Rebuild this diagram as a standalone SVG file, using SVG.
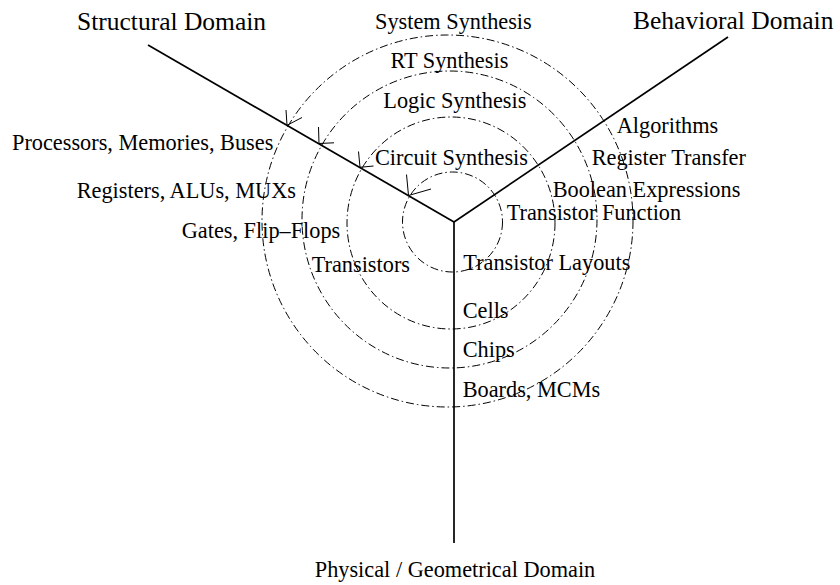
<svg xmlns="http://www.w3.org/2000/svg" width="840" height="585" viewBox="0 0 840 585">
  <style>
    .lbl { font-family: "Liberation Serif", "Times New Roman", serif; font-size: 22.3px; fill: #000; }
    .dom { font-family: "Liberation Serif", "Times New Roman", serif; font-size: 25.5px; fill: #000; }
    .axis { stroke: #000; stroke-width: 1.7; fill: none; }
    .level { stroke: #000; stroke-width: 1; fill: none; stroke-dasharray: 8 3 1.5 3; }
    .head { stroke: #000; stroke-width: 1; fill: none; }
  </style>
  <rect width="840" height="585" fill="#fff"/>

  <!-- abstraction level circles -->
  <g id="levels">
    <ellipse class="level" cx="447.5" cy="221" rx="185.5" ry="186"/>
    <ellipse class="level" cx="449.5" cy="219.5" rx="147.5" ry="148.5"/>
    <ellipse class="level" cx="451" cy="223" rx="104" ry="106"/>
    <ellipse class="level" cx="452.5" cy="222" rx="50" ry="50"/>
  </g>

  <!-- the three domain axes -->
  <g id="connectors">
    <line class="axis" x1="148" y1="45" x2="454" y2="222"/>
    <line class="axis" x1="728" y1="37" x2="454" y2="222"/>
    <line class="axis" x1="454" y1="222" x2="454" y2="543"/>
  </g>

  <!-- synthesis arrowheads where the circles meet the structural axis -->
  <g id="arrowheads">
    <polyline class="head" points="286,110 287,125.3 302,117.5"/>
    <polyline class="head" points="318.5,127 319,143.5 334,142.8"/>
    <polyline class="head" points="358.5,151.5 360,167.3 373.5,166"/>
    <polyline class="head" points="406.5,174.5 408.5,195.5 431,189"/>
  </g>

  <g id="structural-domain"><text class="dom" x="77" y="30">Structural Domain</text></g>
  <g id="behavioral-domain"><text class="dom" x="633" y="29">Behavioral Domain</text></g>
  <g id="physical-domain"><text class="lbl" x="455" y="577" text-anchor="middle">Physical / Geometrical Domain</text></g>

  <g id="system-synthesis"><text class="lbl" x="375" y="28.5">System Synthesis</text></g>
  <g id="rt-synthesis"><text class="lbl" x="390.5" y="68.3">RT Synthesis</text></g>
  <g id="logic-synthesis"><text class="lbl" x="383.3" y="108.3">Logic Synthesis</text></g>
  <g id="circuit-synthesis"><text class="lbl" x="375" y="165">Circuit Synthesis</text></g>

  <g id="processors"><text class="lbl" x="12" y="150">Processors, Memories, Buses</text></g>
  <g id="registers"><text class="lbl" x="76.7" y="198.3">Registers, ALUs, MUXs</text></g>
  <g id="gates"><text class="lbl" x="181.7" y="238.3">Gates, Flip–Flops</text></g>
  <g id="transistors"><text class="lbl" x="311.7" y="272">Transistors</text></g>

  <g id="algorithms"><text class="lbl" x="616.7" y="133.3">Algorithms</text></g>
  <g id="register-transfer"><text class="lbl" x="591.7" y="165">Register Transfer</text></g>
  <g id="boolean-expressions"><text class="lbl" x="552.7" y="196.7">Boolean Expressions</text></g>
  <g id="transistor-function"><text class="lbl" x="506.7" y="220">Transistor Function</text></g>

  <g id="transistor-layouts"><text class="lbl" x="463.3" y="270">Transistor Layouts</text></g>
  <g id="cells"><text class="lbl" x="462.7" y="318.3">Cells</text></g>
  <g id="chips"><text class="lbl" x="462.7" y="356.7">Chips</text></g>
  <g id="boards"><text class="lbl" x="462.7" y="397.3">Boards, MCMs</text></g>
</svg>
